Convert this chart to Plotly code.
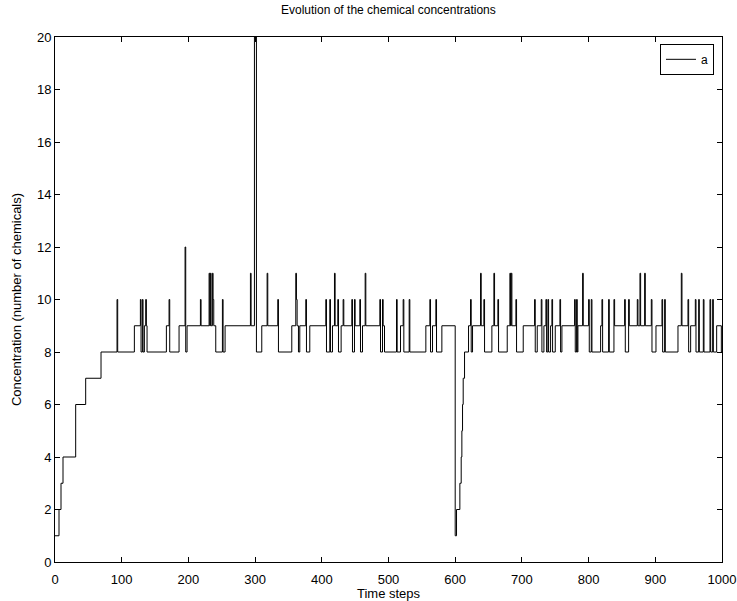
import plotly.graph_objects as go

# change points (time step, concentration from that step onward)
change_steps = [0, 6, 9, 12, 31, 46, 69, 93, 94, 119, 128, 129, 131, 132, 134, 136, 137, 138,
                167, 171, 172, 186, 195, 196, 198, 218, 219, 231, 232, 233, 234, 236, 237, 238,
                241, 251, 252, 255, 293, 294, 299, 302, 310, 318, 319, 334, 335, 355, 361, 362,
                363, 365, 367, 376, 377, 382, 406, 407, 412, 413, 416, 419, 420, 424, 425, 429,
                432, 433, 445, 446, 449, 450, 457, 458, 461, 465, 466, 487, 488, 491, 492, 494,
                512, 513, 518, 522, 523, 531, 532, 556, 562, 563, 566, 571, 572, 580, 600, 602,
                607, 609, 610, 611, 612, 614, 620, 623, 624, 626, 638, 639, 643, 644, 655, 658,
                659, 664, 665, 678, 682, 683, 684, 685, 691, 692, 702, 719, 720, 723, 729, 730,
                733, 736, 737, 739, 740, 743, 745, 746, 750, 757, 758, 760, 779, 780, 782, 783,
                784, 791, 792, 800, 801, 804, 805, 818, 820, 821, 830, 831, 838, 839, 854, 855,
                860, 861, 873, 874, 877, 878, 884, 885, 894, 895, 901, 910, 911, 914, 915, 934,
                939, 940, 949, 950, 953, 960, 961, 965, 966, 972, 973, 982, 983, 986, 987, 992,
                999, 1000]
concentration = [1, 2, 3, 4, 6, 7, 8, 10, 8, 9, 10, 8, 10, 8, 9, 10, 9, 8,
                 9, 10, 8, 9, 12, 8, 9, 10, 9, 11, 9, 11, 9, 11, 10, 9,
                 8, 10, 8, 9, 11, 9, 20, 8, 9, 11, 9, 10, 8, 9, 11, 10,
                 9, 8, 9, 10, 8, 9, 10, 8, 10, 8, 9, 11, 9, 10, 8, 9,
                 10, 9, 10, 8, 10, 9, 10, 8, 9, 11, 9, 10, 8, 10, 9, 8,
                 10, 8, 9, 10, 8, 10, 8, 9, 10, 8, 9, 10, 8, 9, 1, 2,
                 3, 4, 5, 6, 7, 8, 9, 10, 8, 9, 11, 9, 10, 8, 9, 11,
                 9, 10, 8, 9, 11, 9, 11, 9, 10, 8, 9, 10, 8, 9, 10, 8,
                 9, 10, 8, 10, 8, 9, 10, 8, 9, 10, 8, 9, 10, 8, 10, 8,
                 9, 11, 9, 10, 8, 10, 8, 9, 10, 8, 10, 8, 10, 9, 10, 8,
                 10, 9, 10, 9, 11, 9, 11, 9, 10, 8, 9, 10, 8, 10, 8, 9,
                 11, 9, 10, 8, 9, 10, 8, 10, 8, 10, 8, 10, 8, 10, 8, 9,
                 8, 8]

x_ticks = list(range(0, 1001, 100))
y_ticks = list(range(0, 21, 2))

font = "Liberation Sans, Arial, Helvetica, sans-serif"

fig = go.Figure()
fig.add_trace(go.Scatter(x=change_steps, y=concentration, mode="lines",
                         line=dict(color="black", width=1, shape="hv"), name="a"))

axis_common = dict(showline=True, linecolor="black", linewidth=1, mirror="ticks",
                   ticks="inside", ticklen=5, tickcolor="black", showgrid=False,
                   zeroline=False, automargin=False,
                   tickfont=dict(size=13, color="black", family=font))

fig.update_layout(
    width=737, height=601,
    margin=dict(l=55, r=15, t=37, b=39),
    paper_bgcolor="white", plot_bgcolor="white",
    font=dict(family=font, size=13, color="black"),
    title=dict(text="Evolution of the chemical concentrations", x=0.527, xanchor="center",
               y=1 - 10 / 601, yanchor="middle", font=dict(size=12, color="black", family=font)),
    xaxis=dict(range=[0, 1000], tickvals=x_ticks, ticklabelstandoff=5,
               title=dict(text="Time steps", standoff=0, font=dict(size=13)), **axis_common),
    yaxis=dict(range=[0, 20], tickvals=y_ticks,
               title=dict(text="Concentration (number of chemicals)", standoff=12,
                          font=dict(size=13)), **axis_common),
    showlegend=True,
    legend=dict(x=0.988, y=0.987, xanchor="right", yanchor="top", bgcolor="white",
                bordercolor="black", borderwidth=1, font=dict(size=12, color="black"),
                itemwidth=30, tracegroupgap=0),
)

fig.write_html("out.html", config={"displayModeBar": False},
               post_script="document.body.style.margin='0';")
